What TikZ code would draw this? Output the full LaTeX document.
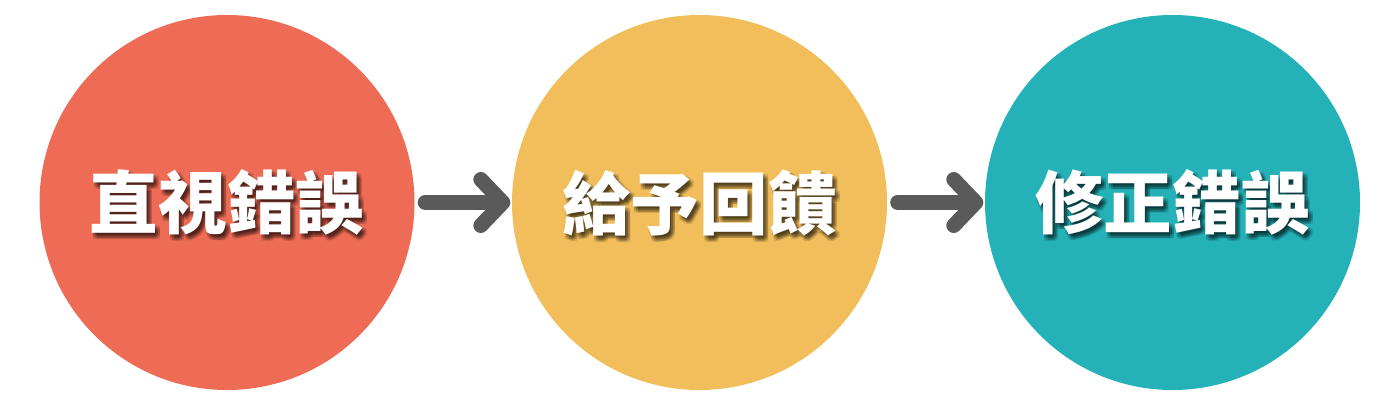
\documentclass[tikz,border=0pt]{standalone}
\usepackage{fontspec}
\newfontfamily\cjk{Noto Sans CJK TC}
\usepackage{tikz}
\usetikzlibrary{arrows.meta}
\tikzset{>=latex}

\definecolor{redstep}{HTML}{EE6B55}
\definecolor{yellowstep}{HTML}{F2BE5B}
\definecolor{tealstep}{HTML}{24B1B7}
\definecolor{arrowgray}{HTML}{5A5A5A}

\tikzset{
  bubble/.style={circle, minimum size=3.75cm, inner sep=0pt},
  caption/.style={text=white, inner sep=0pt, font=\cjk\bfseries\fontsize{19.5}{20}\selectfont},
  glow/.style={text=black, text opacity=0.11, inner sep=0pt, font=\cjk\bfseries\fontsize{19.5}{20}\selectfont},
  flow/.style={line width=0.15cm, color=arrowgray, line cap=round,
    -{Straight Barb[round, length=0.22cm, width=0.46cm, line width=0pt 1]},
    shorten <=0.1cm, shorten >=0.01cm}
}

\begin{document}
\begin{tikzpicture}

\useasboundingbox (0,0) rectangle (14,4.04);

% circles
\node[bubble, fill=redstep] (c1) at (2.27,2.015) {};
\node[bubble, fill=yellowstep] (c2) at (6.995,2.015) {};
\node[bubble, fill=tealstep] (c3) at (11.725,2.015) {};

% text shadows
\foreach \dx in {0.01,0.03,0.05}
  \foreach \dy in {-0.02,-0.04,-0.06} {
    \node[glow] (s1) at ([shift={(\dx,\dy)}]c1) {直視錯誤};
    \node[glow] (s2) at ([shift={(\dx,\dy)}]c2) {給予回饋};
    \node[glow] (s3) at ([shift={(\dx,\dy)}]c3) {修正錯誤};
  }

% labels
\node[caption] (t1) at (c1) {直視錯誤};
\node[caption] (t2) at (c2) {給予回饋};
\node[caption] (t3) at (c3) {修正錯誤};

% arrows
\draw[flow] (c1) -- (c2);
\draw[flow] (c2) -- (c3);

\end{tikzpicture}
\end{document}
